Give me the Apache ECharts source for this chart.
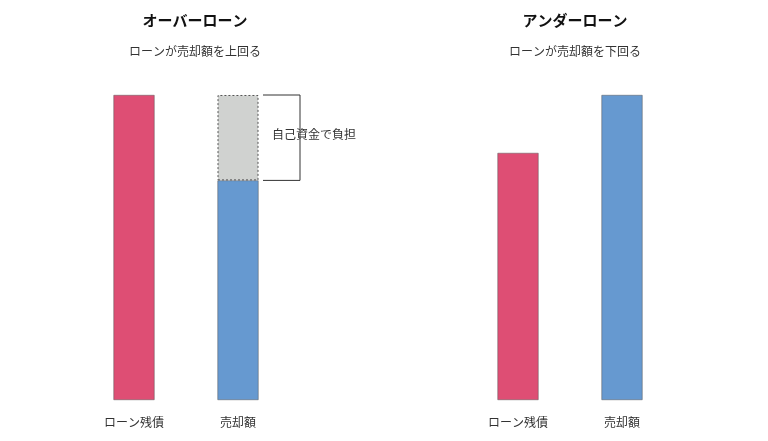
<!DOCTYPE html>
<html lang="ja">
<head>
<meta charset="UTF-8">
<script src="https://cdn.jsdelivr.net/npm/echarts@6/dist/echarts.min.js"></script>
<style>html,body{margin:0;background:#fff}#main{width:768px;height:441px}</style>
</head>
<body>
<div id="main"></div>
<script>
var cats = ['ローン残債', '売却額'];
var overRed = [100, null];
var overBlue = [null, 72];
var overGray = [null, 28];
var underRed = [81, null];
var underBlue = [null, 100];

var chart = echarts.init(document.getElementById('main'));
var font = '"Noto Sans CJK JP", sans-serif';
function xAxis(i) {
    return {gridIndex: i, type: 'category', data: cats, axisLine: {show: false}, axisTick: {show: false},
        axisLabel: {color: '#333', fontSize: 12, fontFamily: font, margin: 16}};
}
function yAxis(i) {
    return {gridIndex: i, type: 'value', min: 0, max: 100, show: false};
}
var option = {
    animation: false,
    title: [
        {text: 'オーバーローン', subtext: 'ローンが売却額を上回る', left: 190, top: 8, textAlign: 'center', itemGap: 17,
            textStyle: {fontSize: 15, fontWeight: 'bold', color: '#111', fontFamily: font},
            subtextStyle: {fontSize: 12, color: '#333', fontFamily: font}},
        {text: 'アンダーローン', subtext: 'ローンが売却額を下回る', left: 570, top: 8, textAlign: 'center', itemGap: 17,
            textStyle: {fontSize: 15, fontWeight: 'bold', color: '#111', fontFamily: font},
            subtextStyle: {fontSize: 12, color: '#333', fontFamily: font}}
    ],
    grid: [
        {left: 82, width: 208, top: 95, bottom: 41},
        {left: 466, width: 208, top: 95, bottom: 41}
    ],
    xAxis: [xAxis(0), xAxis(1)],
    yAxis: [yAxis(0), yAxis(1)],
    series: [
        {type: 'bar', xAxisIndex: 0, yAxisIndex: 0, stack: 'a', barWidth: 41, data: overRed,
            itemStyle: {color: '#DE4E74', borderColor: '#555', borderWidth: 0.5}},
        {type: 'bar', xAxisIndex: 0, yAxisIndex: 0, stack: 'a', barWidth: 41, data: overBlue,
            itemStyle: {color: '#6699D0', borderColor: '#555', borderWidth: 0.5}},
        {type: 'bar', xAxisIndex: 0, yAxisIndex: 0, stack: 'a', barWidth: 41, data: overGray,
            itemStyle: {color: '#D0D2D0', borderColor: '#555', borderWidth: 1, borderType: [2, 2]}},
        {type: 'bar', xAxisIndex: 1, yAxisIndex: 1, stack: 'b', barWidth: 41, data: underRed,
            itemStyle: {color: '#DE4E74', borderColor: '#555', borderWidth: 0.5}},
        {type: 'bar', xAxisIndex: 1, yAxisIndex: 1, stack: 'b', barWidth: 41, data: underBlue,
            itemStyle: {color: '#6699D0', borderColor: '#555', borderWidth: 0.5}}
    ]
};
chart.setOption(option);

// bracket beside the gray part, placed through the axis scales
var pTop = chart.convertToPixel({gridIndex: 0}, [1, overBlue[1] + overGray[1]]);
var pBot = chart.convertToPixel({gridIndex: 0}, [1, overBlue[1]]);
var x0 = pTop[0] + 25, x1 = pTop[0] + 62;
chart.setOption({
    graphic: [
        {type: 'polyline', shape: {points: [[x0, pTop[1]], [x1, pTop[1]], [x1, pBot[1]], [x0, pBot[1]]]},
            style: {stroke: '#333', lineWidth: 1, fill: null}},
        {type: 'text', left: x0 + 9, top: (pTop[1] + pBot[1]) / 2 - 9,
            style: {text: '自己資金で負担', fill: '#333', fontSize: 12, fontFamily: font}}
    ]
});
</script>
</body>
</html>
